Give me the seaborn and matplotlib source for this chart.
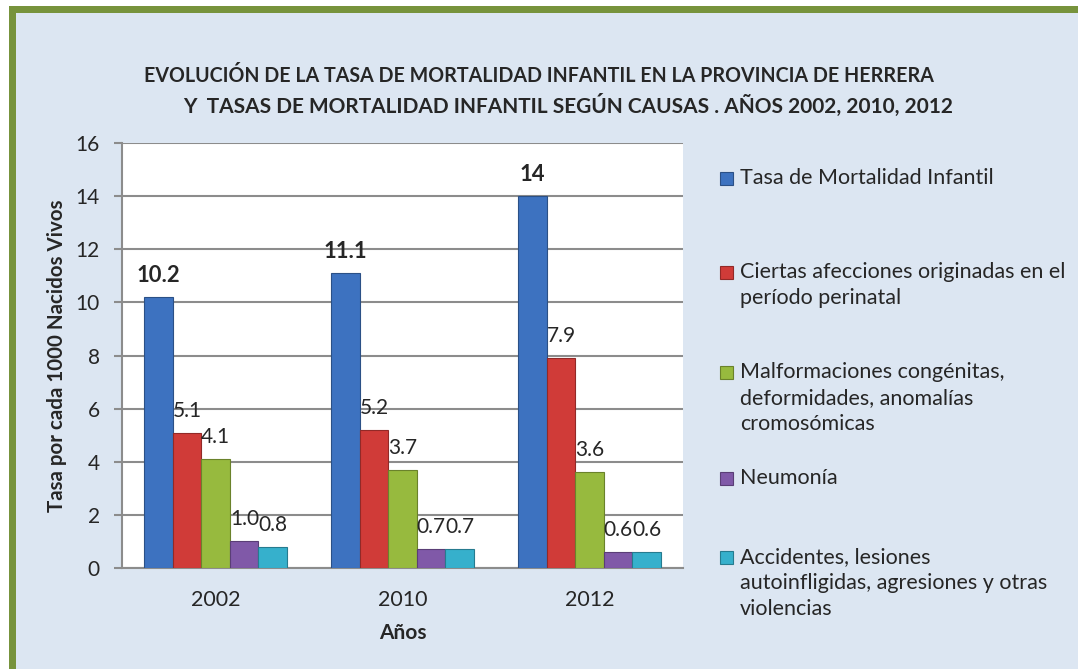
import matplotlib
matplotlib.use("Agg")
import matplotlib.pyplot as plt
import seaborn as sns
import pandas as pd
from matplotlib.patches import Rectangle
from matplotlib.colors import to_rgb

# ---------------- data ----------------
years = ["2002", "2010", "2012"]
series = [
    "Tasa de Mortalidad Infantil",
    "Ciertas afecciones originadas en el período perinatal",
    "Malformaciones congénitas, deformidades, anomalías cromosómicas",
    "Neumonía",
    "Accidentes, lesiones autoinfligidas, agresiones y otras violencias",
]
legend_labels = [
    "Tasa de Mortalidad Infantil",
    "Ciertas afecciones originadas en el\nperíodo perinatal",
    "Malformaciones congénitas,\ndeformidades, anomalías\ncromosómicas",
    "Neumonía",
    "Accidentes, lesiones\nautoinfligidas, agresiones y otras\nviolencias",
]
tasa = [10.2, 11.1, 14]
perinatal = [5.1, 5.2, 7.9]
malformaciones = [4.1, 3.7, 3.6]
neumonia = [1.0, 0.7, 0.6]
accidentes = [0.8, 0.7, 0.6]
yticks = [0, 2, 4, 6, 8, 10, 12, 14, 16]

title_line1 = "EVOLUCIÓN DE LA TASA DE MORTALIDAD INFANTIL EN LA PROVINCIA DE HERRERA"
title_line2 = "Y  TASAS DE MORTALIDAD INFANTIL SEGÚN CAUSAS . AÑOS 2002, 2010, 2012"
ylabel = "Tasa por cada 1000 Nacidos Vivos"
xlabel = "Años"

colors = ["#3D72C0", "#D03B38", "#97BA3E", "#8059A8", "#36B0CC"]

values = [tasa, perinatal, malformaciones, neumonia, accidentes]
rows = []
for s, vals in zip(series, values):
    for y, v in zip(years, vals):
        rows.append({"year": y, "serie": s, "value": v})
df = pd.DataFrame(rows)

# ---------------- style ----------------
sns.set_style("white")
plt.rcParams["font.family"] = ["Lato", "DejaVu Sans"]

W, H = 1078, 669
fig = plt.figure(figsize=(W / 100, H / 100), dpi=100, facecolor="white")

def fx(px):
    return px / W

def fy(py):
    return 1 - py / H

# frame: green border + light-blue panel
fig.add_artist(Rectangle((fx(9), 0), 1, fy(6), transform=fig.transFigure,
                         facecolor="#77933C", edgecolor="none", zorder=-10))
fig.add_artist(Rectangle((fx(16), 0), 1, fy(12.5), transform=fig.transFigure,
                         facecolor="#DCE6F2", edgecolor="none", zorder=-9))

ax = fig.add_axes([fx(122), fy(568), fx(683) - fx(122), fy(143) - fy(568)])
ax.set_facecolor("white")

sns.barplot(data=df, x="year", y="value", hue="serie", order=years,
            hue_order=series, palette=colors, width=0.765, saturation=1,
            legend=False, ax=ax, errorbar=None, zorder=3)

# darker edges for a bit of relief
for cont, c in zip(ax.containers, colors):
    r, g, b = to_rgb(c)
    for bar in cont:
        bar.set_edgecolor((r * 0.7, g * 0.7, b * 0.7))
        bar.set_linewidth(0.8)

ax.set_ylim(0, 16)
ax.set_yticks(yticks)
ax.yaxis.grid(True, color="#8C8C8C", linewidth=1.5, zorder=0)
ax.set_axisbelow(True)
for side in ["top", "right"]:
    ax.spines[side].set_visible(False)
for side in ["left", "bottom"]:
    ax.spines[side].set_color("#8C8C8C")
    ax.spines[side].set_linewidth(1.5)

ax.tick_params(axis="y", length=6, width=1.5, color="#8C8C8C", pad=10,
               labelsize=15, left=True)
ax.tick_params(axis="x", length=0, pad=16, labelsize=15.5)

ax.set_ylabel(ylabel, fontsize=14.8, fontweight="bold")
ax.set_xlabel(xlabel, fontsize=15, fontweight="bold")
ax.yaxis.set_label_coords((67 - 122) / 561, 0.5)
ax.xaxis.set_label_coords(0.5, (568 - 623) / 425)

# data labels
for i, (cont, vals) in enumerate(zip(ax.containers, values)):
    for bar, v in zip(cont, vals):
        x = bar.get_x()
        w = bar.get_width()
        h = bar.get_height()
        if i == 0:
            ax.annotate(f"{v:g}", (x + w / 2, h), xytext=(0, 11),
                        textcoords="offset points", ha="center",
                        va="baseline", fontsize=15.8, fontweight="bold")
        else:
            ax.annotate(f"{v:.1f}", (x, h), xytext=(0, 11.5),
                        textcoords="offset points", ha="left",
                        va="baseline", fontsize=15)

# title
fig.text(fx(539), fy(76), title_line1, ha="center", va="center",
         fontsize=14.1, fontweight="bold")
fig.text(fx(568), fy(105), title_line2, ha="center", va="center",
         fontsize=15.0, fontweight="bold")

# legend (manual, Excel-like vertical distribution)
first_line_y = [178, 272, 372, 478, 557]
line_h = 26
for lab, c, y0 in zip(legend_labels, colors, first_line_y):
    r, g, b = to_rgb(c)
    fig.add_artist(Rectangle((fx(720), fy(y0 + 6.5)), fx(13), 13 / H,
                             transform=fig.transFigure, facecolor=c,
                             edgecolor=(r * 0.7, g * 0.7, b * 0.7),
                             linewidth=0.8))
    for k, line in enumerate(lab.split("\n")):
        fig.text(fx(740), fy(y0 + k * line_h), line, ha="left",
                 va="center", fontsize=15.5)

fig.savefig("out.png", dpi=100, facecolor=fig.get_facecolor())
